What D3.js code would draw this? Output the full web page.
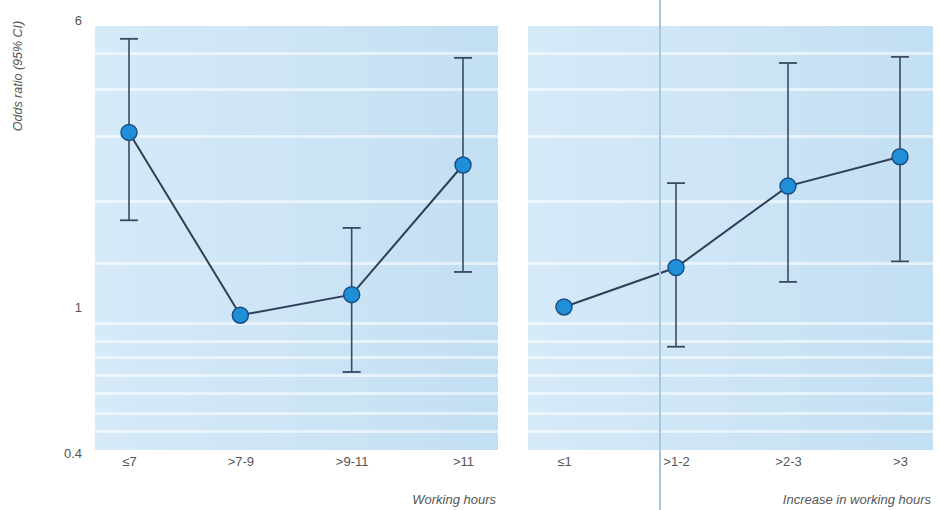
<!DOCTYPE html>
<html>
<head>
<meta charset="utf-8">
<script src="https://cdn.jsdelivr.net/npm/d3@7"></script>
<style>
  body { margin: 0; background: #fff; }
  svg { display: block; font-family: "Liberation Sans", Arial, sans-serif; }
</style>
</head>
<body>
<svg id="chart" width="940" height="510"></svg>
<script>
// left panel: working hours
const hoursCats = ["≤7", ">7-9", ">9-11", ">11"];
const hoursOR = [2.98, 0.95, 1.08, 2.43];
const hoursLo = [1.72, null, 0.666, 1.245];
const hoursHi = [5.35, null, 1.64, 4.75];

// right panel: increase in working hours
const incCats = ["≤1", ">1-2", ">2-3", ">3"];
const incOR = [1.0, 1.28, 2.13, 2.56];
const incLo = [null, 0.78, 1.17, 1.33];
const incHi = [null, 2.17, 4.60, 4.78];

const yTicks = [0.4, 1, 6];

const svg = d3.select("#chart");

const y = d3.scaleLog().domain([0.4, 6]).range([453.5, 20.5]);

const defs = svg.append("defs");
const grad = defs.append("linearGradient").attr("id", "bg").attr("x1", 0).attr("x2", 1);
grad.append("stop").attr("offset", "0%").attr("stop-color", "#d6eaf8");
grad.append("stop").attr("offset", "100%").attr("stop-color", "#c3dff3");

// pale stripes of the scanned page behind the plot
const stripes = [52, 88, 135, 200, 262, 322, 340, 356, 374, 392, 412, 430];

const panels = [
  { x0: 95, x1: 498, r0: 129, r1: 463, cats: hoursCats, or: hoursOR, lo: hoursLo, hi: hoursHi, title: "Working hours" },
  { x0: 528, x1: 933, r0: 564, r1: 900, cats: incCats, or: incOR, lo: incLo, hi: incHi, title: "Increase in working hours" }
];

panels.forEach(p => {
  const g = svg.append("g");
  g.append("rect")
    .attr("x", p.x0).attr("y", 26)
    .attr("width", p.x1 - p.x0).attr("height", 424)
    .attr("fill", "url(#bg)");
  g.selectAll(".stripe").data(stripes).join("rect")
    .attr("class", "stripe")
    .attr("x", p.x0).attr("width", p.x1 - p.x0)
    .attr("y", d => d).attr("height", 3)
    .attr("fill", "#fff").attr("opacity", 0.55);

  const x = d3.scalePoint().domain(p.cats).range([p.r0, p.r1]);
  const pts = p.cats.map((c, i) => ({ c, or: p.or[i], lo: p.lo[i], hi: p.hi[i] }));

  const xAxis = d3.axisBottom(x).tickSize(0).tickPadding(0);
  const ax = g.append("g").attr("transform", "translate(0,457)").call(xAxis);
  ax.select(".domain").remove();
  ax.selectAll("text")
    .attr("fill", "#555")
    .attr("font-size", 13)
    .attr("font-family", "Liberation Sans, Arial, sans-serif");

  g.append("text")
    .attr("x", p.x1 - 2).attr("y", 504)
    .attr("text-anchor", "end")
    .attr("font-style", "italic")
    .attr("font-size", 13)
    .attr("fill", "#555")
    .text(p.title);

  const bars = pts.filter(d => d.lo != null);
  g.selectAll(".err").data(bars).join("line")
    .attr("x1", d => x(d.c)).attr("x2", d => x(d.c))
    .attr("y1", d => y(d.lo)).attr("y2", d => y(d.hi))
    .attr("stroke", "#3b4a60").attr("stroke-width", 1.6);
  ["lo", "hi"].forEach(k => {
    g.selectAll(".cap-" + k).data(bars).join("line")
      .attr("x1", d => x(d.c) - 9).attr("x2", d => x(d.c) + 9)
      .attr("y1", d => y(d[k])).attr("y2", d => y(d[k]))
      .attr("stroke", "#3b4a60").attr("stroke-width", 1.8);
  });

  const line = d3.line().x(d => x(d.c)).y(d => y(d.or));
  g.append("path").datum(pts)
    .attr("d", line)
    .attr("fill", "none")
    .attr("stroke", "#2f3f58")
    .attr("stroke-width", 2);

  g.selectAll(".pt").data(pts).join("circle")
    .attr("cx", d => x(d.c)).attr("cy", d => y(d.or))
    .attr("r", 8)
    .attr("fill", "#1f8fd8")
    .attr("stroke", "#1d4f86")
    .attr("stroke-width", 1.5);
});

// fold line of the scanned page
svg.append("line")
  .attr("x1", 660).attr("x2", 660).attr("y1", 0).attr("y2", 510)
  .attr("stroke", "#a9c6de").attr("stroke-width", 2);

const yAxis = d3.axisLeft(y).tickValues(yTicks).tickFormat(d3.format("")).tickSize(0).tickPadding(0);
const ya = svg.append("g").attr("transform", "translate(82,0)").call(yAxis);
ya.select(".domain").remove();
ya.selectAll("text")
  .attr("fill", "#555")
  .attr("font-size", 13)
  .attr("font-family", "Liberation Sans, Arial, sans-serif");

svg.append("text")
  .attr("transform", "translate(22,76) rotate(-90)")
  .attr("text-anchor", "middle")
  .attr("font-style", "italic")
  .attr("font-size", 12.5)
  .attr("fill", "#555")
  .text("Odds ratio (95% CI)");
</script>
</body>
</html>
